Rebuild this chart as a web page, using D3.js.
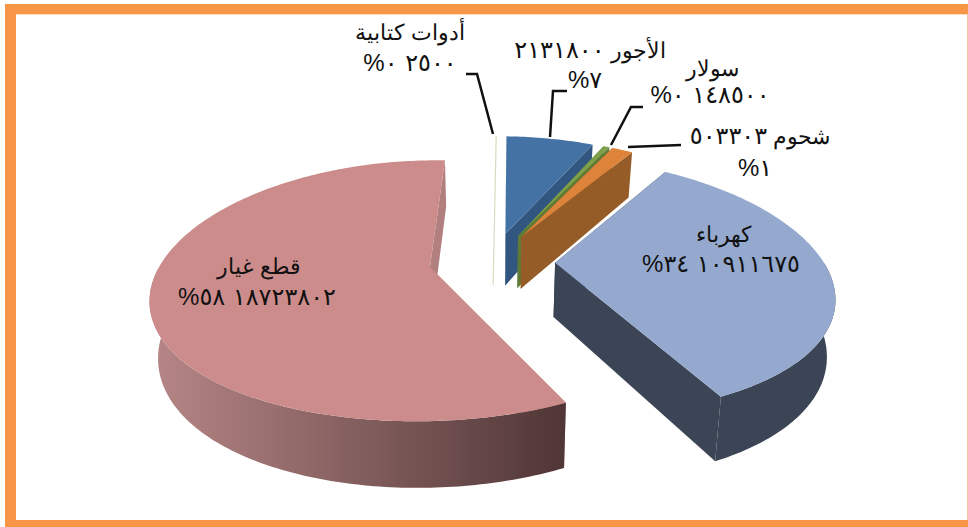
<!DOCTYPE html>
<html lang="ar"><head><meta charset="utf-8">
<script src="https://cdn.jsdelivr.net/npm/d3@7"></script>
<style>html,body{margin:0;padding:0;background:#fff}svg{display:block}
text{font-family:"Liberation Sans",Arial,sans-serif;font-size:22px;fill:#111;direction:rtl;text-anchor:middle}
.num{font-family:"DejaVu Sans";font-size:24px}
.pct{font-size:24px}</style>
</head><body><svg id="c" width="968" height="527"></svg>
<script>
const categories=["أدوات كتابية","الأجور","سولار","شحوم","كهرباء","قطع غيار"];
const values=[2500,2131800,148500,503303,10911675,18723802];
const percents=[0,7,0,1,34,58];
const topColors=["#f4f5e4","#4472a5","#7fa04a","#dd843a","#95a9cf","#cd8c8c"];
const wallColors=["#d9dcc0","#31567f","#5e7a35","#955c28","#3b4555","#b27f7f"];
const rimStart=["#d9dcc0","#3a6490","#6c8c40","#a5652c","#3b4555","#b58585"];
const rimEnd=["#d9dcc0","#31567f","#5e7a35","#955c28","#3b4555","#503636"];
const labelLayout=[
 {a:[410,40],b:[410,71]},{a:[590,58],b:[585,88]},{a:[712,76],b:[710,103]},
 {a:[760,144],b:[755,176]},{a:[723,242],b:[721,272]},{a:[259,274],b:[257,305]}];
const leaders=[
 [[466,74],[477,74],[493,134]],[[567,91],[553,91],[550,137]],
 [[643,107],[631,107],[611,145]],[[681,145],[628,147]]];

const W=968,H=527,cx=492,cy=261,rx=268,by=124,perspY=.18,perspX=.22,shear=4,explode=.235,depth=54,shrink=.975,rotation=2*Math.PI/180;
const svg=d3.select("#c");
const frame=[[5,4,W-5,10,"#f79646"],[5,4,11,H-4,"#f79646"],[5,520,W-5,7,"#f79646"],[967,14,1,506,"#f5c8a0"],[16,14,W-17,1,"#fbdcc0"]];
frame.forEach(f=>svg.append("rect").attr("x",f[0]).attr("y",f[1]).attr("width",f[2]).attr("height",f[3]).attr("fill",f[4]));
const defs=svg.append("defs");
const project=(X,Y,low)=>{
  const s=1/(1+perspY*Y),sx=1/(1+perspX*Y);
  let x=cx+rx*X*sx-shear*Y,y=cy-by*Y*s;
  if(low){x=cx+(x-cx)*shrink;y+=depth*s;}
  return [x,y];
};
const arcs=d3.pie().sort(null).startAngle(rotation).endAngle(rotation+2*Math.PI)(values);
const line=d3.line();
arcs.forEach((d,i)=>{
  const mid=(d.startAngle+d.endAngle)/2;
  const ox=explode*Math.sin(mid),oy=explode*Math.cos(mid);
  const n=Math.max(2,Math.ceil((d.endAngle-d.startAngle)*60));
  const angles=d3.range(n+1).map(k=>d.startAngle+(d.endAngle-d.startAngle)*k/n);
  const rimPt=(t,low)=>project(ox+Math.sin(t),oy+Math.cos(t),low);
  const apex=low=>project(ox,oy,low);
  const g=svg.append("g");
  const wall=t=>g.append("path").attr("d",line([apex(false),rimPt(t,false),rimPt(t,true),apex(true)])+"Z").attr("fill",wallColors[i]);
  if(i>0){wall(d.startAngle);wall(d.endAngle);}
  const front=angles.filter(t=>Math.cos(t)<0);
  if(front.length>1){
    const lowR=front.map(t=>rimPt(t,true)),topR=front.map(t=>rimPt(t,false));
    const xs=lowR.map(p=>p[0]);
    const gid="rim"+i;
    const gr=defs.append("linearGradient").attr("id",gid).attr("gradientUnits","userSpaceOnUse")
      .attr("x1",d3.min(xs)).attr("x2",d3.max(xs)).attr("y1",0).attr("y2",0);
    gr.append("stop").attr("offset",0).attr("stop-color",rimStart[i]);
    gr.append("stop").attr("offset",1).attr("stop-color",rimEnd[i]);
    g.append("path").attr("d",line(topR.concat(lowR.slice().reverse()))+"Z").attr("fill",`url(#${gid})`);
  }
  if(i>0){
    g.append("path").attr("d",line([apex(false)].concat(angles.map(t=>rimPt(t,false))))+"Z").attr("fill",topColors[i]);
  }else{
    g.append("path").attr("d",line([rimPt(mid,false),apex(true)])).attr("fill","none").attr("stroke",wallColors[0]).attr("stroke-width",1.2);
  }
});
leaders.forEach(p=>svg.append("path").attr("d",line(p)).attr("fill","none").attr("stroke","#111").attr("stroke-width",2.5));
const arDigits=v=>String(v).replace(/\d/g,c=>"٠١٢٣٤٥٦٧٨٩"[+c]);
const put=(pos,parts)=>{
  const t=svg.append("text").attr("x",pos[0]).attr("y",pos[1]);
  parts.forEach(p=>{const s=t.append("tspan").text(p.s);if(p.cls)s.attr("class",p.cls);});
};
categories.forEach((c,i)=>{
  const L=labelLayout[i];
  const val=arDigits(values[i]),pd=arDigits(percents[i]);
  if(i===1||i===3){
    put(L.a,[{s:c+" "},{s:val,cls:"num"}]);
    put(L.b,[{s:pd,cls:"num"},{s:"%",cls:"pct"}]);
  }else{
    put(L.a,[{s:c}]);
    put(L.b,[{s:val+" "+pd,cls:"num"},{s:"%",cls:"pct"}]);
  }
});
</script></body></html>
